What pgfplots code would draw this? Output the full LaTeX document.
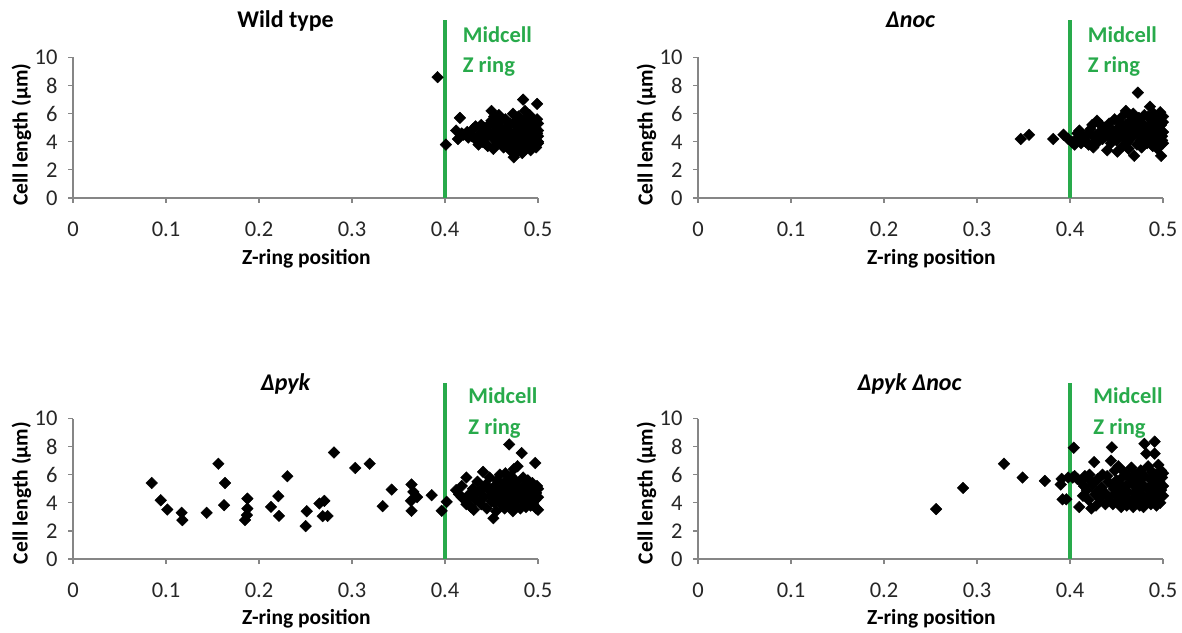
\documentclass[border=0pt]{standalone}
\usepackage{pgfplots}
\pgfplotsset{compat=1.18}
\usepackage{fontspec}
\setmainfont{Carlito}
\definecolor{zgreen}{RGB}{40,170,75}
\definecolor{axgray}{RGB}{134,134,134}
\pgfplotsset{
  zplot/.style={
    scale only axis, width=465pt, height=140.5pt,
    xmin=0,xmax=0.5,ymin=0,ymax=10,
    xtick={0,0.1,0.2,0.3,0.4,0.5}, ytick={0,2,4,6,8,10},
    axis x line=bottom, axis y line=left,
    axis line style={-, draw=axgray, line width=1.2pt},
    tick style={draw=axgray, line width=1.2pt},
    tick align=outside, major tick length=5pt,
    /pgf/number format/assume math mode=true,
    ticklabel style={font=\fontsize{22.5}{22.5}\selectfont, text=black!85},
    xticklabel style={yshift=-15pt},
    yticklabel style={xshift=-7pt},
    clip=false,
  },
  pts/.style={only marks, mark=square*, mark size=4.1pt, mark options={rotate=45, fill=black, draw=black}},
  zline/.style={zgreen, line width=4pt, forget plot},
}
\tikzset{
  lab/.style={font=\bfseries\fontsize{21.5}{21.5}\selectfont},
  ttl/.style={font=\bfseries\fontsize{24}{24}\selectfont, anchor=base},
  mid/.style={font=\bfseries\fontsize{22.5}{22.5}\selectfont, text=zgreen, anchor=base west, inner sep=0pt},
}
\begin{document}
\begin{tikzpicture}
\path[use as bounding box] (0,0) rectangle (1182pt,632pt);
% ---------------- Wild type
\begin{axis}[zplot, at={(73pt,434pt)}, anchor=south west]
\addplot[pts] coordinates {
(0.392,8.6) (0.401,3.8) (0.416,5.7) (0.412,4.8) (0.414,4.2) (0.42,4.5) (0.425,4.3) (0.43,4.9) (0.433,5.1) (0.436,3.8)
(0.438,4.6) (0.44,4.0) (0.442,5.0) (0.445,4.4) (0.447,5.2) (0.45,6.2) (0.452,3.5) (0.453,5.8) (0.455,4.7) (0.456,3.9)
(0.458,5.4) (0.46,4.2) (0.46,5.0) (0.462,4.5) (0.463,3.6) (0.465,5.6) (0.466,4.0) (0.468,4.8) (0.47,3.4) (0.47,5.3)
(0.472,4.3) (0.473,6.0) (0.474,2.9) (0.475,4.6) (0.476,3.8) (0.477,5.1) (0.478,4.1) (0.479,5.8) (0.48,3.5) (0.48,4.4)
(0.484,7.0) (0.482,4.9) (0.483,3.2) (0.484,5.4) (0.485,4.2) (0.486,6.2) (0.487,3.7) (0.488,4.7) (0.489,5.2) (0.49,3.9)
(0.49,4.5) (0.491,5.9) (0.492,3.4) (0.493,4.1) (0.494,4.8) (0.495,5.5) (0.495,3.8) (0.496,4.3) (0.497,5.0) (0.499,6.7)
(0.498,3.6) (0.499,4.6) (0.5,4.0) (0.5,5.3) (0.5,4.4) (0.5,3.9) (0.497,4.2) (0.493,5.0) (0.488,5.7) (0.484,3.9)
(0.478,3.3) (0.471,4.0) (0.467,5.1) (0.463,4.8) (0.457,4.4) (0.452,4.2) (0.448,4.7) (0.444,4.6) (0.443,3.9) (0.437,4.4)
(0.434,4.1) (0.429,4.4) (0.424,4.7) (0.418,4.6) (0.455,5.0) (0.46,5.5) (0.465,4.4) (0.47,4.7) (0.475,5.4) (0.48,5.0)
(0.485,4.6) (0.49,4.9) (0.495,4.6) (0.5,4.8) (0.482,4.3) (0.476,4.1) (0.469,3.7) (0.487,4.1) (0.491,4.3) (0.496,5.2)
(0.499,5.6) (0.45,5.5) (0.458,5.9) (0.462,3.9) (0.439,5.2) (0.446,3.7)
};
\addplot[zline] coordinates {(0.4,0) (0.4,12.7)};
\node[mid] at (axis cs:0.419,11.07) {Midcell};
\node[mid] at (axis cs:0.419,8.9) {Z ring};
\node[ttl] at (rel axis cs:0.457,1.21) {Wild type};
\node[lab, rotate=90] at (rel axis cs:-0.111,0.45) {Cell length (µm)};
\node[lab, anchor=base] at (rel axis cs:0.502,-0.47) {Z-ring position};
\end{axis}
% ---------------- Delta noc
\begin{axis}[zplot, at={(698pt,434pt)}, anchor=south west]
\addplot[pts] coordinates {
(0.347,4.2) (0.356,4.5) (0.382,4.2) (0.393,4.5) (0.398,4.2) (0.402,4.0) (0.405,3.8) (0.408,4.6) (0.41,4.8) (0.412,3.9)
(0.415,4.2) (0.418,4.5) (0.42,3.8) (0.422,4.9) (0.424,5.2) (0.425,3.6) (0.427,4.4) (0.429,5.5) (0.43,4.0) (0.432,4.7)
(0.435,4.2) (0.437,5.0) (0.44,3.4) (0.44,4.5) (0.442,5.3) (0.444,3.9) (0.446,4.8) (0.448,5.6) (0.45,4.1) (0.451,3.3)
(0.452,5.0) (0.454,4.4) (0.456,5.8) (0.457,3.7) (0.458,4.7) (0.46,6.2) (0.46,5.2) (0.462,4.0) (0.463,3.5) (0.464,4.9)
(0.465,5.5) (0.466,4.3) (0.468,6.0) (0.469,3.0) (0.47,4.6) (0.47,5.1) (0.472,3.8) (0.473,7.5) (0.474,5.7) (0.475,4.4)
(0.476,4.9) (0.477,3.6) (0.478,5.3) (0.48,4.2) (0.48,5.9) (0.482,4.7) (0.483,3.9) (0.485,5.1) (0.486,6.5) (0.487,4.5)
(0.488,5.5) (0.489,3.7) (0.49,4.9) (0.49,6.0) (0.491,4.2) (0.492,5.3) (0.493,4.6) (0.494,3.5) (0.495,5.7) (0.496,4.0)
(0.497,6.1) (0.497,4.8) (0.498,3.0) (0.498,5.2) (0.499,4.4) (0.5,5.8) (0.5,4.7) (0.5,3.9) (0.5,5.4) (0.499,4.1)
(0.495,4.5) (0.491,5.6) (0.486,4.3) (0.481,5.0) (0.476,4.1) (0.471,5.4) (0.467,4.6) (0.461,4.4) (0.455,4.9) (0.45,4.6)
(0.445,4.2) (0.438,4.4) (0.433,5.2) (0.428,4.1) (0.423,4.5) (0.417,4.0) (0.413,4.4) (0.407,4.2) (0.484,5.8) (0.479,4.6)
(0.464,5.9) (0.459,4.2) (0.453,5.4)
};
\addplot[zline] coordinates {(0.4,0) (0.4,12.7)};
\node[mid] at (axis cs:0.419,11.07) {Midcell};
\node[mid] at (axis cs:0.419,8.9) {Z ring};
\node[ttl] at (rel axis cs:0.457,1.21) {\itshape Δnoc};
\node[lab, rotate=90] at (rel axis cs:-0.111,0.45) {Cell length (µm)};
\node[lab, anchor=base] at (rel axis cs:0.502,-0.47) {Z-ring position};
\end{axis}
% ---------------- Delta pyk
\begin{axis}[zplot, at={(73pt,73pt)}, anchor=south west]
\addplot[pts] coordinates {
(0.0846,5.41) (0.0943,4.18) (0.1014,3.52) (0.1168,3.29) (0.1176,2.77) (0.1437,3.29) (0.1563,6.78) (0.1634,5.41) (0.1624,3.83)
(0.1875,4.30) (0.1875,3.59) (0.187,3.12) (0.185,2.77) (0.2129,3.71) (0.2208,4.47) (0.2215,3.07) (0.2305,5.89) (0.2513,3.40)
(0.2502,2.34) (0.2649,3.95) (0.2703,4.14) (0.2685,3.05) (0.2738,3.06) (0.2806,7.58) (0.3035,6.48) (0.319,6.78) (0.333,3.76)
(0.3427,4.94) (0.364,5.30) (0.366,4.78) (0.3634,4.14) (0.364,3.43) (0.37,4.4) (0.3857,4.54) (0.3964,3.43) (0.4018,4.07)
(0.412,4.9) (0.415,4.6) (0.418,5.2) (0.42,4.3) (0.423,5.8) (0.423,3.9) (0.426,4.6) (0.428,3.7) (0.43,5.0) (0.431,3.5)
(0.433,4.2) (0.435,5.5) (0.437,4.8) (0.439,3.9) (0.441,6.2) (0.442,4.4) (0.444,5.3) (0.445,3.6) (0.447,4.9) (0.448,5.8)
(0.45,4.1) (0.452,2.9) (0.452,5.1) (0.454,4.6) (0.455,3.4) (0.456,5.6) (0.458,4.3) (0.459,6.0) (0.46,3.9) (0.461,5.0)
(0.462,4.6) (0.463,5.4) (0.464,3.6) (0.465,6.1) (0.466,4.2) (0.467,4.9) (0.469,8.15) (0.469,5.7) (0.47,3.9) (0.47,4.5)
(0.472,5.2) (0.473,3.4) (0.474,6.4) (0.475,4.7) (0.476,3.8) (0.477,5.5) (0.478,6.6) (0.479,4.3) (0.48,5.0) (0.481,3.6)
(0.4825,7.54) (0.483,4.6) (0.484,5.8) (0.485,4.1) (0.486,5.3) (0.487,3.7) (0.488,4.8) (0.489,5.6) (0.49,4.3) (0.491,5.1)
(0.492,3.8) (0.493,4.6) (0.494,5.4) (0.495,3.9) (0.496,4.9) (0.497,6.83) (0.497,4.2) (0.498,3.6) (0.499,5.2) (0.5,4.4)
(0.5,3.5) (0.5,5.0) (0.498,4.7) (0.491,4.0) (0.486,4.5) (0.476,4.2) (0.468,5.3) (0.457,5.0) (0.449,4.5) (0.44,5.0)
(0.432,4.6) (0.425,4.3) (0.418,4.4) (0.453,4.0) (0.463,4.4) (0.471,5.9) (0.48,4.4) (0.489,5.0) (0.494,4.0)
};
\addplot[zline] coordinates {(0.4,0) (0.4,12.55)};
\node[mid] at (axis cs:0.425,11.04) {Midcell};
\node[mid] at (axis cs:0.425,8.87) {Z ring};
\node[ttl] at (rel axis cs:0.457,1.2) {\itshape Δpyk};
\node[lab, rotate=90] at (rel axis cs:-0.111,0.47) {Cell length (µm)};
\node[lab, anchor=base] at (rel axis cs:0.502,-0.465) {Z-ring position};
\end{axis}
% ---------------- Delta pyk Delta noc
\begin{axis}[zplot, at={(698pt,73pt)}, anchor=south west]
\addplot[pts] coordinates {
(0.256,3.55) (0.285,5.06) (0.329,6.78) (0.349,5.8) (0.373,5.56) (0.39,5.3) (0.391,5.7) (0.392,4.25) (0.396,4.25) (0.398,5.8)
(0.404,7.92) (0.403,5.8) (0.405,5.9) (0.41,3.7) (0.412,5.5) (0.414,4.5) (0.416,5.9) (0.418,4.9) (0.42,4.2) (0.421,6.0)
(0.423,3.6) (0.424,5.3) (0.426,6.9) (0.427,4.6) (0.428,3.8) (0.43,5.7) (0.432,4.3) (0.434,5.1) (0.436,4.8) (0.438,3.9)
(0.44,5.9) (0.442,4.4) (0.445,7.95) (0.444,7.0) (0.445,5.3) (0.446,3.9) (0.448,6.3) (0.449,4.7) (0.45,5.6) (0.451,4.2)
(0.452,6.6) (0.453,5.0) (0.455,3.7) (0.456,5.8) (0.457,4.5) (0.458,6.2) (0.46,5.2) (0.461,3.8) (0.462,4.8) (0.463,5.9)
(0.464,4.2) (0.466,6.5) (0.467,5.4) (0.468,3.7) (0.469,4.7) (0.47,6.0) (0.471,5.1) (0.472,4.1) (0.474,5.6) (0.475,3.8)
(0.476,6.3) (0.477,4.6) (0.478,5.3) (0.479,3.7) (0.48,8.2) (0.48,5.9) (0.481,4.3) (0.482,7.5) (0.483,5.0) (0.484,6.6)
(0.485,4.5) (0.486,5.7) (0.487,3.9) (0.488,6.2) (0.489,4.8) (0.49,5.4) (0.491,8.35) (0.491,7.5) (0.491,4.2) (0.492,6.0)
(0.493,3.8) (0.494,5.1) (0.495,6.7) (0.495,4.6) (0.496,5.5) (0.497,4.0) (0.498,6.3) (0.498,4.9) (0.499,5.8) (0.5,4.5)
(0.5,5.2) (0.5,6.1) (0.497,4.4) (0.493,5.6) (0.487,5.2) (0.482,4.0) (0.476,5.0) (0.47,4.4) (0.465,5.7) (0.459,4.0)
(0.454,5.3) (0.447,5.0) (0.441,5.5) (0.435,6.0) (0.429,4.8) (0.422,5.6) (0.415,5.2) (0.408,5.7)
};
\addplot[zline] coordinates {(0.4,0) (0.4,12.55)};
\node[mid] at (axis cs:0.425,11.04) {Midcell};
\node[mid] at (axis cs:0.425,8.87) {Z ring};
\node[ttl] at (rel axis cs:0.455,1.2) {\itshape Δpyk Δnoc};
\node[lab, rotate=90] at (rel axis cs:-0.111,0.47) {Cell length (µm)};
\node[lab, anchor=base] at (rel axis cs:0.502,-0.465) {Z-ring position};
\end{axis}
\end{tikzpicture}
\end{document}
